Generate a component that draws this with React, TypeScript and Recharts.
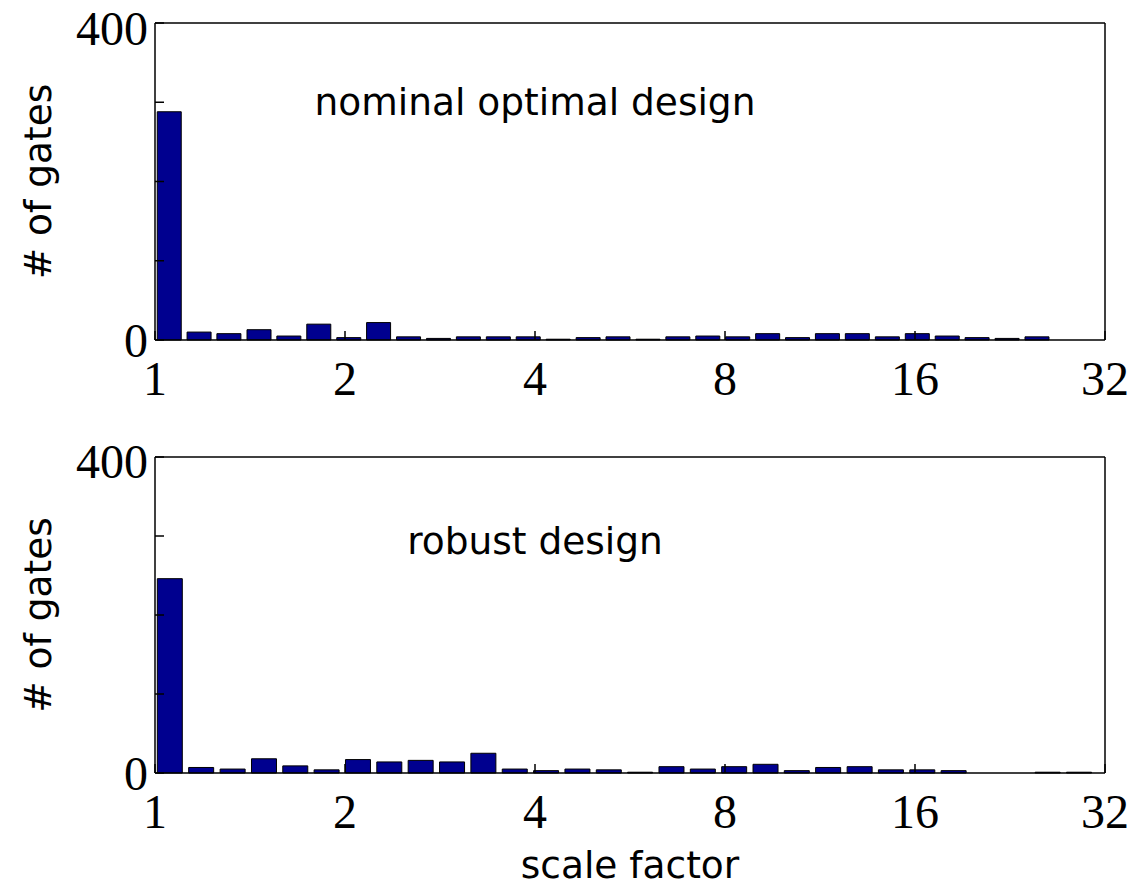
import React from 'react';
import { BarChart, Bar, XAxis, YAxis, Customized } from 'recharts';

// bin centres (scale factor) and gate counts
const nominalFactors = [
  1.053, 1.174, 1.309, 1.461, 1.629, 1.817, 2.027, 2.26, 2.521, 2.812, 3.136,
  3.498, 3.901, 4.351, 4.854, 5.413, 6.038, 6.734, 7.511, 8.377, 9.344, 10.42,
  11.62, 12.96, 14.46, 16.13, 17.99, 20.06, 22.38, 24.96, 27.84, 31.05,
];
const nominalCounts = [
  288, 10, 8, 13, 5, 20, 3, 22, 4, 2, 4, 4, 4, 1, 3, 4, 1, 4, 5, 4, 8, 3, 8,
  8, 4, 8, 5, 3, 2, 4, 0, 0,
];

const robustFactors = [
  1.056, 1.184, 1.328, 1.489, 1.669, 1.871, 2.098, 2.352, 2.637, 2.957, 3.315,
  3.717, 4.167, 4.672, 5.238, 5.872, 6.584, 7.382, 8.276, 9.279, 10.4, 11.66,
  13.08, 14.66, 16.44, 18.43, 20.66, 23.17, 25.97, 29.12,
];
const robustCounts = [
  246, 7, 5, 18, 9, 4, 17, 14, 16, 14, 25, 5, 3, 5, 4, 1, 8, 5, 8, 11, 3, 7,
  8, 4, 4, 3, 0, 0, 1, 1,
];

const xTickLabels = [1, 2, 4, 8, 16, 32];
const yTicks = [0, 100, 200, 300, 400];

const BAR_COLOR = '#00008f';
const serif = 'Liberation Serif';
const sans = 'DejaVu Sans';
const SANS_SIZE = 37.5;
const TICK_SIZE = 48;

const toRows = (factors: number[], counts: number[]) =>
  factors.map((f, i) => ({ x: Math.log2(f), count: counts[i] }));

const xTicks = xTickLabels.map((v) => Math.log2(v));

const YLabel = (props: any) => {
  const { viewBox } = props;
  const cx = 51;
  const cy = viewBox.y + viewBox.height / 2;
  return (
    <text
      x={cx}
      y={cy}
      transform={`rotate(-90 ${cx} ${cy})`}
      textAnchor="middle"
      fontFamily={sans}
      fontSize={SANS_SIZE}
      fill="#000"
    >
      # of gates
    </text>
  );
};

interface PanelProps {
  rows: { x: number; count: number }[];
  title: string;
  titleY: number;
  barSize: number;
  height: number;
  topHeight: number;
  bottomHeight: number;
  xLabel?: string;
}

const Panel: React.FC<PanelProps> = ({ rows, title, titleY, barSize, height, topHeight, bottomHeight, xLabel }) => (
  <BarChart
    width={1138}
    height={height}
    data={rows}
    margin={{ top: 0, right: 0, left: 0, bottom: 0 }}
    barCategoryGap={0}
  >
    <XAxis
      dataKey="x"
      type="number"
      domain={[0, 5]}
      allowDataOverflow
      ticks={xTicks}
      tickFormatter={(v: number) => String(Math.round(2 ** v))}
      height={bottomHeight}
      stroke="#000"
      strokeWidth={1.5}
      tickSize={-9}
      tickMargin={30}
      tick={{ fill: '#000', fontSize: TICK_SIZE, fontFamily: serif }}
      label={
        xLabel
          ? { value: xLabel, position: 'insideBottom', offset: 12, fontSize: SANS_SIZE, fontFamily: sans, fill: '#000' }
          : undefined
      }
    />
    <XAxis
      xAxisId="top"
      dataKey="x"
      type="number"
      orientation="top"
      domain={[0, 5]}
      allowDataOverflow
      ticks={xTicks}
      height={topHeight}
      stroke="#000"
      strokeWidth={1.5}
      tickSize={-9}
      tick={false}
    />
    <YAxis
      domain={[0, 400]}
      ticks={yTicks}
      width={155}
      stroke="#000"
      strokeWidth={1.5}
      tickSize={-9}
      tickMargin={16}
      tickFormatter={(v: number) => (v === 0 || v === 400 ? String(v) : '')}
      tick={{ fill: '#000', fontSize: TICK_SIZE, fontFamily: serif }}
      label={<YLabel />}
    />
    <YAxis
      yAxisId="right"
      orientation="right"
      domain={[0, 400]}
      ticks={yTicks}
      width={33}
      stroke="#000"
      strokeWidth={1.5}
      tickSize={-9}
      tick={false}
    />
    <Bar
      dataKey="count"
      fill={BAR_COLOR}
      stroke="#000"
      strokeWidth={1}
      barSize={barSize}
      isAnimationActive={false}
    />
    <Customized
      component={() => (
        <text x={535} y={titleY} textAnchor="middle" fontFamily={sans} fontSize={SANS_SIZE} fill="#000">
          {title}
        </text>
      )}
    />
  </BarChart>
);

export default function App() {
  const nominal = toRows(nominalFactors, nominalCounts);
  const robust = toRows(robustFactors, robustCounts);
  return (
    <div style={{ position: 'absolute', left: 0, top: 0, width: 1138, height: 890, background: '#fff' }}>
      <div style={{ position: 'absolute', left: 0, top: 0 }}>
        <Panel
          rows={nominal}
          title="nominal optimal design"
          titleY={115}
          barSize={24}
          height={433}
          topHeight={23}
          bottomHeight={93}
        />
      </div>
      <div style={{ position: 'absolute', left: 0, top: 433 }}>
        <Panel
          rows={robust}
          title="robust design"
          titleY={121}
          barSize={25}
          height={457}
          topHeight={24}
          bottomHeight={117}
          xLabel="scale factor"
        />
      </div>
    </div>
  );
}
